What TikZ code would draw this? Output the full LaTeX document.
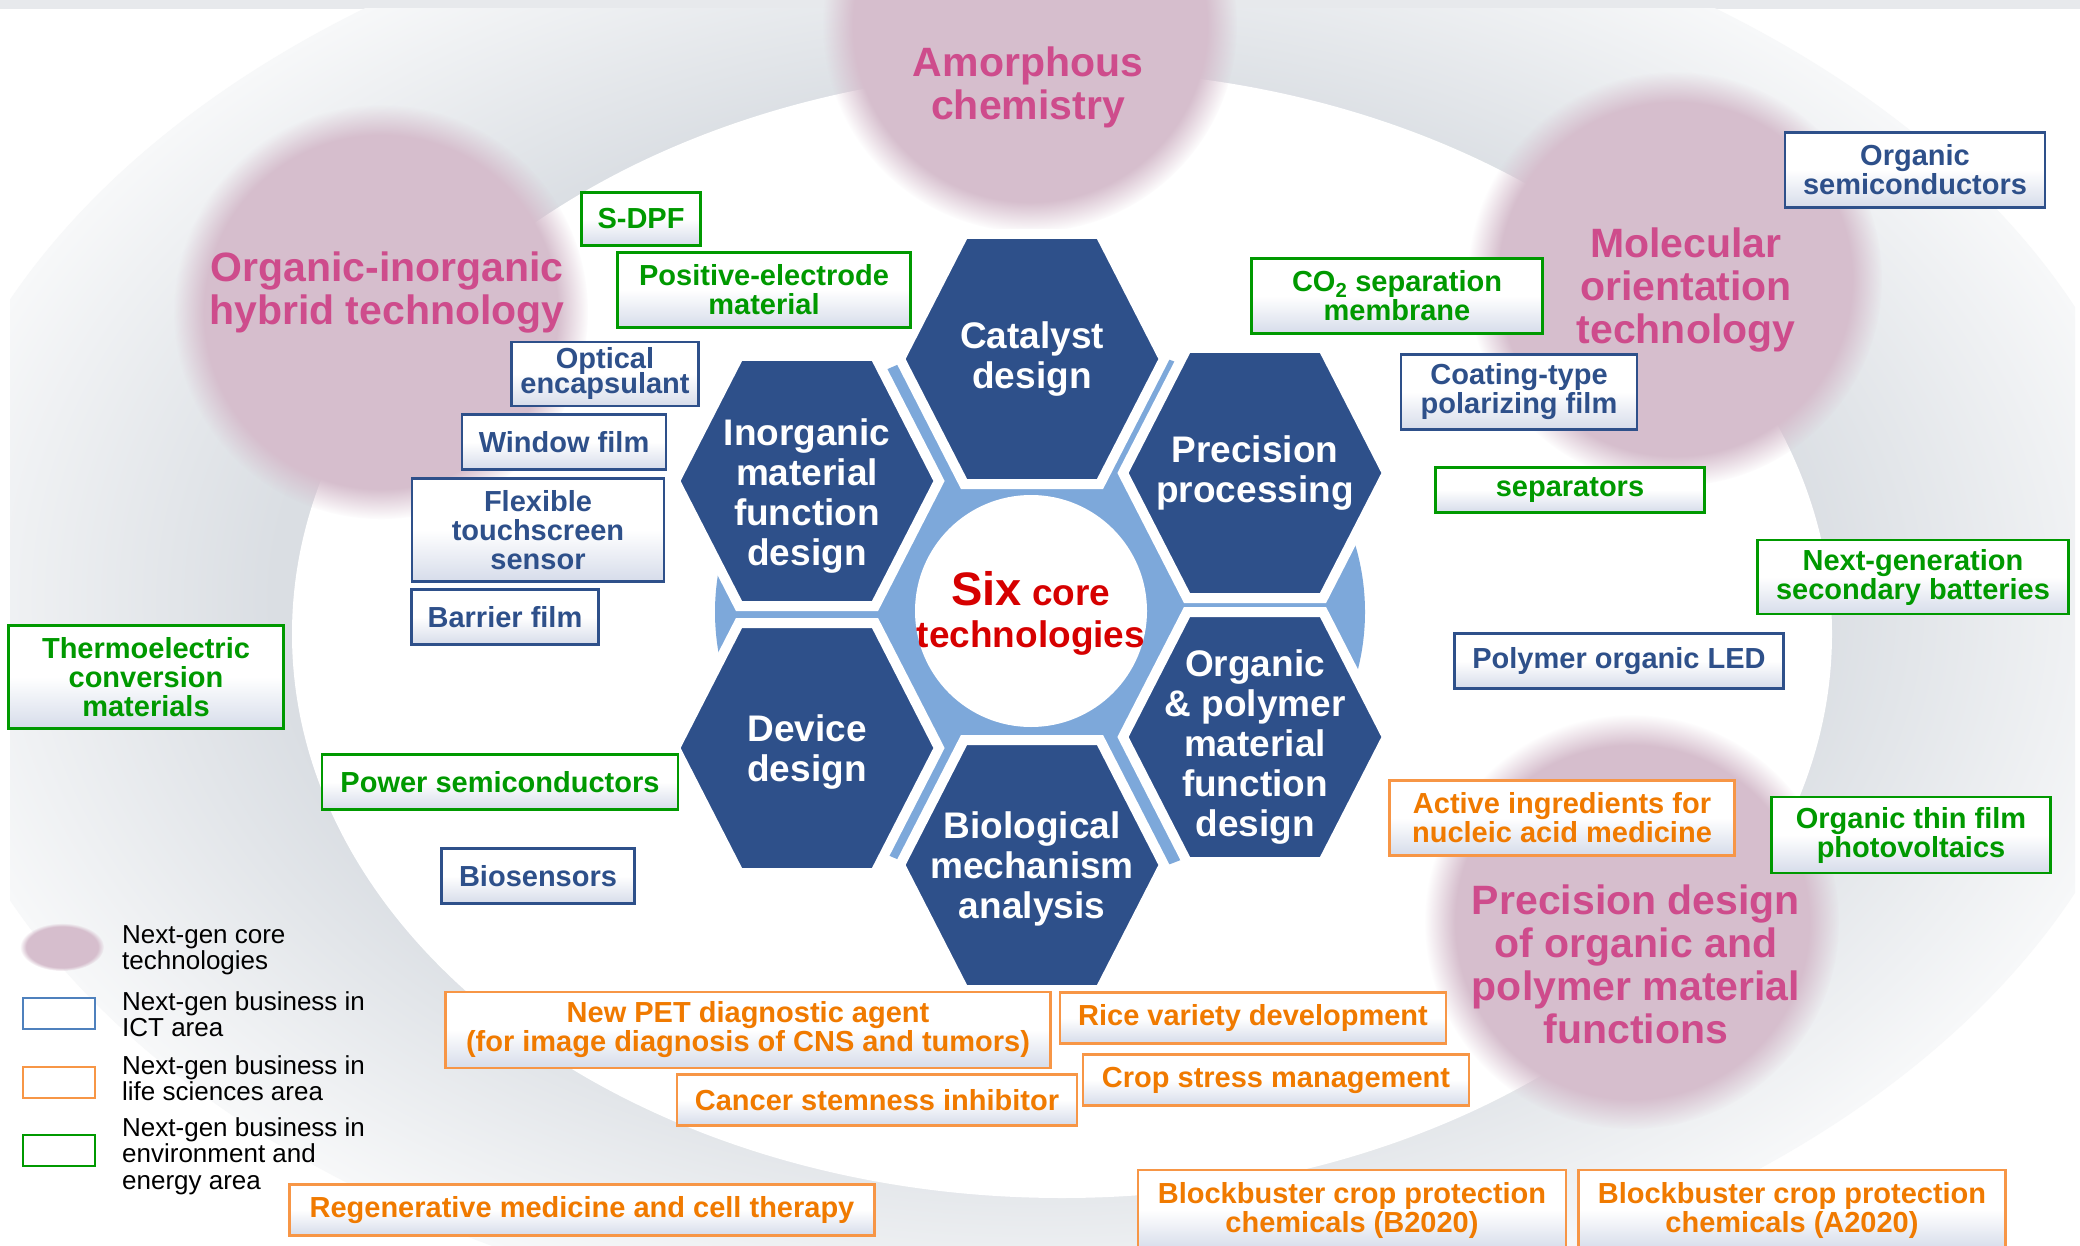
\documentclass[tikz,border=0pt]{standalone}
\usepackage{fontspec}
\setmainfont{Liberation Sans}
\usetikzlibrary{fadings}

\definecolor{hexblue}{RGB}{46,80,138}
\definecolor{ringblue}{RGB}{125,168,218}
\definecolor{ringdark}{RGB}{218,222,227}
\definecolor{ringlight}{RGB}{247,248,249}
\definecolor{topbar}{RGB}{231,233,236}
\definecolor{corepink}{RGB}{214,190,205}
\definecolor{titlepink}{RGB}{206,76,140}
\definecolor{hubred}{RGB}{214,0,0}
\definecolor{ictblue}{RGB}{46,80,138}
\definecolor{envgreen}{RGB}{0,153,0}
\definecolor{lifeline}{RGB}{247,150,70}
\definecolor{lifetext}{RGB}{240,122,0}
\definecolor{legblue}{RGB}{79,129,189}
\definecolor{boxshade}{RGB}{214,220,234}

\pgfdeclareradialshading{ringshade}{\pgfpointorigin}{color(0bp)=(ringdark); color(17bp)=(ringdark); color(25bp)=(ringlight); color(50bp)=(ringlight)}

\tikzset{
  corefill/.style={fill=corepink, path fading=circle with fuzzy edge 15 percent},
  coretitle/.style={text=titlepink, align=center, inner sep=0, font=\fontsize{41}{43}\selectfont\bfseries},
  hexcell/.style={fill=hexblue, draw=white, line width=10, line join=miter},
  hextext/.style={text=white, align=center, inner sep=0, font=\fontsize{37}{40}\selectfont\bfseries},
  bizbox/.style={rectangle, line width=2.5, top color=white, bottom color=boxshade, middle color=white, align=center, inner sep=2, font=\fontsize{29}{29}\selectfont\bfseries},
  ictbox/.style={bizbox, draw=ictblue, text=ictblue},
  envbox/.style={bizbox, draw=envgreen, text=envgreen},
  lifebox/.style={bizbox, draw=lifeline, text=lifetext},
  legbox/.style={rectangle, fill=white, line width=2, minimum width=72, minimum height=31, inner sep=0},
  legtext/.style={anchor=west, align=left, inner sep=0, font=\fontsize{26}{26.5}\selectfont}
}

\begin{document}
\begin{tikzpicture}[x=1pt, y=-1pt]
\clip (0,0) rectangle (2080,1246);
\fill[white] (0,0) rectangle (2080,1246);
\fill[topbar] (0,0) rectangle (2080,9);
\begin{scope}
  \clip (10,9) rectangle (2075,1246);
  \shade[shading=ringshade] (1040,600) ellipse [x radius=1127, y radius=739];
\end{scope}
\fill[white] (1062,634) ellipse [x radius=770, y radius=564];

\foreach \cx/\cy in {1030/25, 381/312, 1675/279, 1632/922}
  \fill[corefill] (\cx,\cy) circle (207);

\node[coretitle] (amorph) at (1028,87) {Amorphous\\chemistry};
\node[coretitle] (hybrid) at (387,292) {Organic-inorganic\\hybrid technology};
\node[coretitle] (molor) at (1686,290) {Molecular\\orientation\\technology};
\node[coretitle] (precdes) at (1636,964) {Precision design\\of organic and\\polymer material\\functions};

\fill[ringblue] (1040,612) ellipse [x radius=325, y radius=275];
\fill[white] (1031,611) circle (116);
\node[text=hubred, align=center, inner sep=0, font=\fontsize{37}{42}\selectfont\bfseries] (hub) at (1031,613)
  {{\fontsize{47}{42}\selectfont Six} core\\technologies};

\foreach \n/\x/\y/\dy/\t in {cat/1032/359/0/{Catalyst\\design},
    pre/1255/473/0/{Precision\\processing},
    org/1255/737/10/{Organic\\\& polymer\\material\\function\\design},
    bio/1032/865/4/{Biological\\mechanism\\analysis},
    dev/807/748/4/{Device\\design},
    ino/807/481/15/{Inorganic\\material\\function\\design}} {
  \filldraw[hexcell] (\x,\y) ++(-132,0) -- ++(64,-125) -- ++(136,0) -- ++(64,125) -- ++(-64,125) -- ++(-136,0) -- cycle;
  \node[hextext] (\n) at (\x,\y+\dy) {\t};
}

\node[envbox, minimum width=119, minimum height=53] (sdpf) at (641,219) {S-DPF};
\node[envbox, minimum width=293, minimum height=75] (posel) at (764,290) {Positive-electrode\\material};
\node[ictbox, minimum width=187, minimum height=64] (optenc) at (605,374) {Optical\\[-4pt]encapsulant};
\node[ictbox, minimum width=204, minimum height=55] (winfilm) at (564,442) {Window film};
\node[ictbox, minimum width=252, minimum height=103] (flex) at (538,530) {Flexible\\touchscreen\\sensor};
\node[ictbox, minimum width=187, minimum height=55] (barrier) at (505,617) {Barrier film};
\node[envbox, minimum width=275, minimum height=103] (thermo) at (146,677) {Thermoelectric\\conversion\\materials};
\node[envbox, minimum width=356, minimum height=55] (power) at (500,782) {Power semiconductors};
\node[ictbox, minimum width=193, minimum height=55] (bios) at (538,876) {Biosensors};
\node[lifebox, minimum width=605, minimum height=76] (pet) at (748,1030) {New PET diagnostic agent\\(for image diagnosis of CNS and tumors)};
\node[lifebox, minimum width=400, minimum height=51] (cancer) at (877,1100) {Cancer stemness inhibitor};
\node[lifebox, minimum width=585, minimum height=51] (regen) at (582,1210) {Regenerative medicine and cell therapy};

\node[envbox, minimum width=291, minimum height=75] (co2) at (1397,296) {CO\textsubscript{2} separation\\membrane};
\node[ictbox, minimum width=260, minimum height=75] (orgsemi) at (1915,170) {Organic\\semiconductors};
\node[ictbox, minimum width=236, minimum height=75] (coating) at (1519,392) {Coating-type\\polarizing film};
\node[envbox, minimum width=269, minimum height=45] (separ) at (1570,490) {separators};
\node[envbox, minimum width=311, minimum height=74] (nextbat) at (1913,577) {Next-generation\\secondary batteries};
\node[ictbox, minimum width=329, minimum height=55] (pled) at (1619,661) {Polymer organic LED};
\node[lifebox, minimum width=345, minimum height=75] (nucleic) at (1562,818) {Active ingredients for\\nucleic acid medicine};
\node[envbox, minimum width=279, minimum height=76] (opv) at (1911,835) {Organic thin film\\photovoltaics};
\node[lifebox, minimum width=386, minimum height=51] (rice) at (1253,1018) {Rice variety development};
\node[lifebox, minimum width=386, minimum height=51] (crop) at (1276,1080) {Crop stress management};
\node[lifebox, minimum width=428, minimum height=80] (blockb) at (1352,1210) {Blockbuster crop protection\\chemicals (B2020)};
\node[lifebox, minimum width=427, minimum height=80] (blocka) at (1792,1210) {Blockbuster crop protection\\chemicals (A2020)};

\fill[corefill] (62,947) ellipse [x radius=42, y radius=24];
\node[legtext] (legcore) at (122,950) {Next-gen core\\technologies};
\node[legbox, draw=legblue] (legict) at (59,1013) {};
\node[legtext] (legictt) at (122,1014) {Next-gen business in\\ICT area};
\node[legbox, draw=lifeline] (leglife) at (59,1082) {};
\node[legtext] (leglifet) at (122,1078) {Next-gen business in\\life sciences area};
\node[legbox, draw=envgreen] (legenv) at (59,1150) {};
\node[legtext] (legenvt) at (122,1156) {Next-gen business in\\environment and\\energy area};
\end{tikzpicture}
\end{document}
